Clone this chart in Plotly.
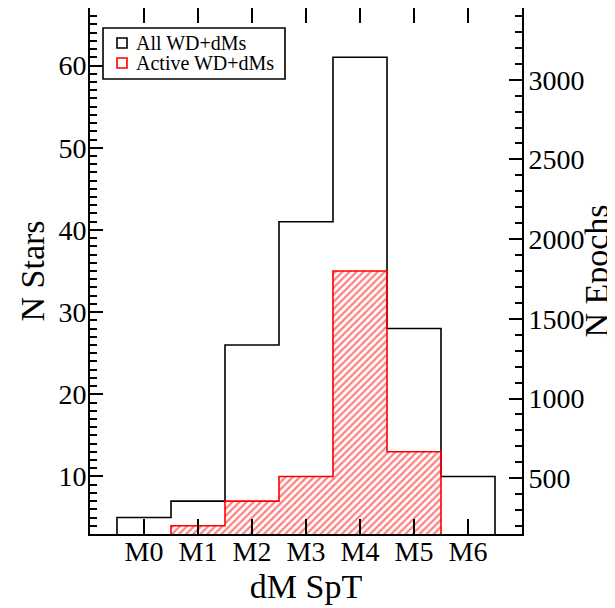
import plotly.graph_objects as go

categories = ["M0", "M1", "M2", "M3", "M4", "M5", "M6"]
all_counts = [5, 7, 26, 41, 61, 28, 10]
active_counts = [0, 4, 7, 10, 35, 13, 0]
series_names = ["All WD+dMs", "Active WD+dMs"]
series_colors = ["black", "red"]
left_ticks = [10, 20, 30, 40, 50, 60]
right_ticks = [500, 1000, 1500, 2000, 2500, 3000]

FONT = "Liberation Serif, Times New Roman, serif"
# the page body adds an 8px offset; compensate so the plot lands where the reference has it
OFF = 8
W, H = 607, 600
ML, MR, MT, MB = 82, 93, 0, 74
PW, PH = W - ML - MR, H - MT - MB


def step_outline(counts):
    xs, ys = [-0.5], [0]
    for i, c in enumerate(counts):
        xs += [i - 0.5, i + 0.5]
        ys += [c, c]
    xs.append(len(counts) - 0.5)
    ys.append(0)
    return xs, ys


def px_x(p):
    return (p - OFF - ML) / PW


def px_y(p):
    return (MT + PH - (p - OFF)) / PH


fig = go.Figure()

ax, ay = step_outline(all_counts)
fig.add_trace(go.Scatter(x=ax, y=ay, mode="lines",
                         line=dict(color="black", width=1.6),
                         name=series_names[0], showlegend=False, hoverinfo="skip"))

rx, ry = step_outline(active_counts)
fig.add_trace(go.Scatter(x=rx, y=ry, mode="lines", fill="toself",
                         fillcolor="rgba(0,0,0,0)",
                         fillpattern=dict(shape="/", fgcolor="red", size=5,
                                          solidity=0.45),
                         line=dict(color="red", width=1.6),
                         name=series_names[1], showlegend=False, hoverinfo="skip"))

# invisible trace to activate the right axis
fig.add_trace(go.Scatter(x=[None], y=[None], yaxis="y2", showlegend=False))

# custom legend box (pixel-placed)
shapes = [dict(type="rect", xref="paper", yref="paper",
               x0=px_x(103), x1=px_x(285), y0=px_y(79), y1=px_y(28),
               line=dict(color="black", width=1.6), fillcolor="white", layer="above")]
annotations = []
row_y = [43, 63]
for name, col, ry_ in zip(series_names, series_colors, row_y):
    shapes.append(dict(type="rect", xref="paper", yref="paper",
                       x0=px_x(117), x1=px_x(127), y0=px_y(ry_ + 5), y1=px_y(ry_ - 5),
                       line=dict(color=col, width=1.6), fillcolor="rgba(0,0,0,0)",
                       layer="above"))
    annotations.append(dict(xref="paper", yref="paper", x=px_x(134), y=px_y(ry_),
                            xanchor="left", yanchor="middle", text=name,
                            showarrow=False,
                            font=dict(family=FONT, size=20, color="black")))

fig.update_layout(
    width=W, height=H,
    margin=dict(l=ML, r=MR, t=MT, b=MB, pad=0),
    plot_bgcolor="white", paper_bgcolor="white",
    font=dict(family=FONT, size=28, color="black"),
    showlegend=False,
    shapes=shapes, annotations=annotations,
    xaxis=dict(range=[-1, 7], tickvals=list(range(len(categories))),
               ticktext=categories, ticks="inside", ticklen=15, tickwidth=1.6,
               tickcolor="black", showline=True, linecolor="black", linewidth=2,
               mirror="ticks", showgrid=False, zeroline=False, automargin=False,
               ticklabelstandoff=-9,
               title=dict(text="dM SpT", standoff=9)),
    yaxis=dict(range=[3, 67], tickvals=left_ticks, ticks="inside", ticklen=13,
               tickwidth=1.6, tickcolor="black",
               minor=dict(dtick=1, tick0=0, ticks="inside", ticklen=7,
                          tickwidth=1.6, tickcolor="black"),
               showline=True, linecolor="black", linewidth=2,
               showgrid=False, zeroline=False, automargin=False,
               ticklabelstandoff=-4,
               title=dict(text="N Stars", standoff=4)),
    yaxis2=dict(range=[150, 3450], overlaying="y", side="right",
                tickvals=right_ticks, ticks="inside", ticklen=13,
                tickwidth=1.6, tickcolor="black",
                minor=dict(dtick=100, tick0=0, ticks="inside", ticklen=7,
                           tickwidth=1.6, tickcolor="black"),
                showline=True, linecolor="black", linewidth=2,
                showgrid=False, zeroline=False, automargin=False,
                ticklabelstandoff=-1,
                title=dict(text="N Epochs", standoff=4)),
)

fig.write_html("out.html")
